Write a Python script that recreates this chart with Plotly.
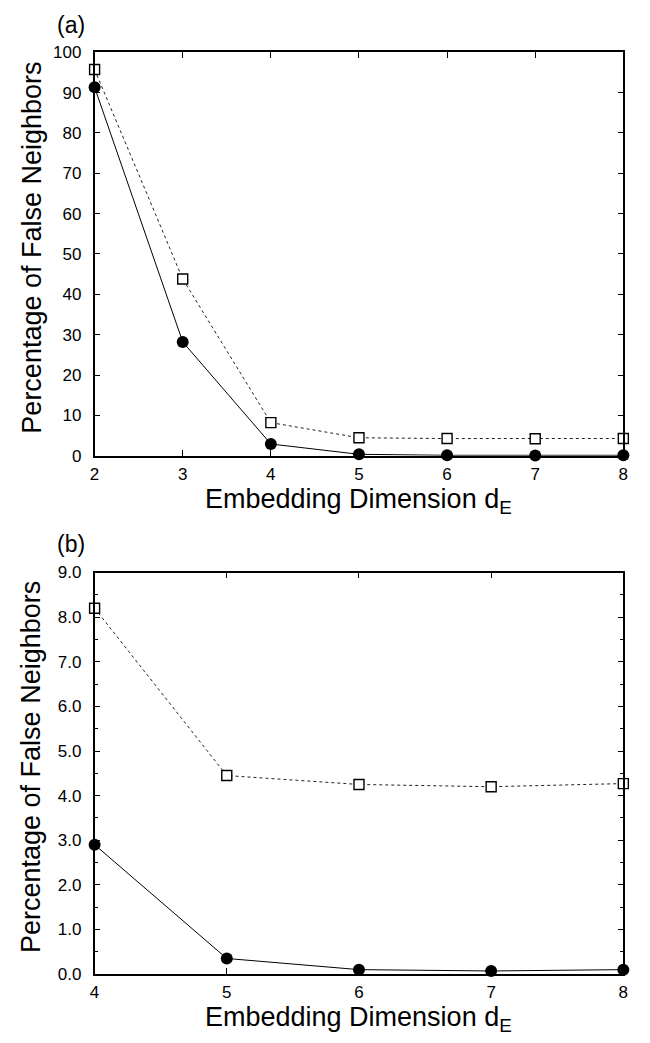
import plotly.graph_objects as go

# Embedding dimension and percentage of false nearest neighbours
dims = [2, 3, 4, 5, 6, 7, 8]
fnn_filled = [91.3, 28.2, 2.9, 0.35, 0.1, 0.07, 0.1]
fnn_open = [95.7, 43.8, 8.2, 4.45, 4.25, 4.2, 4.27]

# Panel (b) shows the tail from d_E = 4 onward
zoom_start = dims.index(4)
dims_b = dims[zoom_start:]
filled_b = fnn_filled[zoom_start:]
open_b = fnn_open[zoom_start:]

W, H = 650, 1043
FONT = "Liberation Sans, Arial, Helvetica, sans-serif"

fig = go.Figure()


def add_pair(x, y_open, y_filled, xa, ya):
    fig.add_trace(go.Scatter(
        x=x, y=y_open, mode="lines+markers", xaxis=xa, yaxis=ya,
        line=dict(color="#222", width=1, dash="dot"),
        marker=dict(symbol="square", size=10, color="white",
                    line=dict(color="black", width=1.4)),
        cliponaxis=False, showlegend=False))
    fig.add_trace(go.Scatter(
        x=x, y=y_filled, mode="lines+markers", xaxis=xa, yaxis=ya,
        line=dict(color="black", width=1),
        marker=dict(symbol="circle", size=12, color="black"),
        cliponaxis=False, showlegend=False))


add_pair(dims, fnn_open, fnn_filled, "x", "y")
add_pair(dims_b, open_b, filled_b, "x2", "y2")

x0, x1 = 91 / W, 628 / W
dom_a = [1 - 455 / H, 1 - 44 / H]
dom_b = [1 - 983 / H, 1 - 574 / H]

axis_common = dict(
    showline=True, linecolor="black", linewidth=1.5, mirror="ticks",
    ticks="inside", ticklen=6, tickwidth=1, tickcolor="black",
    showgrid=False, zeroline=False,
    tickfont=dict(family=FONT, size=17, color="black"),
)

fig.update_layout(
    width=W, height=H,
    margin=dict(l=0, r=0, t=0, b=0),
    paper_bgcolor="white", plot_bgcolor="white",
    xaxis=dict(domain=[x0, x1], anchor="y", range=[2, 8], dtick=1,
               ticklabelstandoff=2, **axis_common),
    yaxis=dict(domain=dom_a, anchor="x", range=[0, 100], dtick=10,
               ticklabelstandoff=8, **axis_common),
    xaxis2=dict(domain=[x0, x1], anchor="y2", range=[4, 8], dtick=1,
                ticklabelstandoff=2, **axis_common),
    yaxis2=dict(domain=dom_b, anchor="x2", range=[0, 9], dtick=1,
                tickformat=".1f", ticklabelstandoff=8,
                minor=dict(dtick=0.5, ticks="inside", ticklen=4,
                           tickcolor="black"),
                **axis_common),
)

title_font = dict(family=FONT, size=27, color="black")
label_font = dict(family=FONT, size=23, color="black")

annotations = []
for dom, tag, tag_y, xt_y in [(dom_a, "(a)", 16, 501), (dom_b, "(b)", 545, 1029)]:
    annotations.append(dict(
        text="Percentage of False Neighbors", textangle=-90,
        x=27 / W, y=(dom[0] + dom[1]) / 2 + 6 / H, xref="paper", yref="paper",
        xanchor="center", yanchor="middle", showarrow=False, borderpad=0,
        font=title_font))
    annotations.append(dict(
        text="Embedding Dimension d<sub>E</sub>",
        x=(x0 + x1) / 2, y=1 - xt_y / H, xref="paper", yref="paper",
        xanchor="center", yanchor="middle", showarrow=False, borderpad=0,
        font=title_font))
    annotations.append(dict(
        text=tag, x=67 / W, y=1 - tag_y / H, xref="paper", yref="paper",
        xanchor="center", yanchor="middle", showarrow=False, borderpad=0,
        font=label_font))

fig.update_layout(annotations=annotations)

fig.write_html("out.html")
